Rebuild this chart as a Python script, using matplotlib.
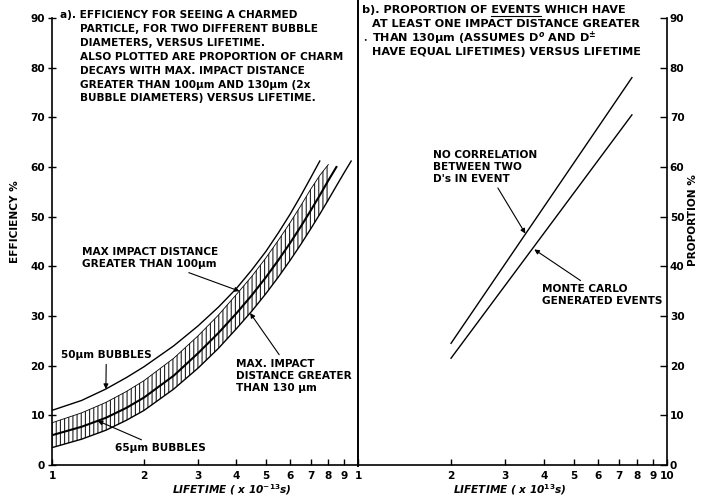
import numpy as np
import matplotlib
matplotlib.use("Agg")
import matplotlib.pyplot as plt
from matplotlib.lines import Line2D

# ---- data ----
# panel a) efficiency / proportion vs lifetime (x 1e-13 s)
lifetime_band = [1, 1.25, 1.5, 1.75, 2, 2.5, 3, 3.5, 4, 4.5, 5, 5.5, 6, 6.5, 7, 7.5, 8]

lifetime_50 = [1, 1.25, 1.5, 1.75, 2, 2.5, 3, 3.5, 4, 4.5, 5, 5.5, 6, 6.5, 7, 7.5]
eff_50um = [11, 13, 15.3, 17.6, 19.8, 24, 28, 31.8, 35.5, 39.3, 43, 46.8, 50.5, 54.2, 57.8, 61.2]

lifetime_65 = [1, 1.25, 1.5, 1.75, 2, 2.5, 3, 3.5, 4, 4.5, 5, 5.5, 6, 6.5, 7, 7.5, 8, 8.5]
eff_65um = [6, 7.7, 9.5, 11.5, 13.6, 18, 22.5, 26.6, 30.5, 34.2, 37.8, 41.3, 44.7, 48, 51.2,
            54.3, 57.3, 60]

prop_100um = [8.5, 10.5, 12.6, 14.8, 17, 21.5, 26, 30.2, 34.3, 38, 41.7, 45.3, 48.8, 52.2,
              55.5, 58.3, 60.5]

lifetime_130 = [1, 1.25, 1.5, 1.75, 2, 2.5, 3, 3.5, 4, 4.5, 5, 5.5, 6, 6.5, 7, 7.5, 8,
                8.5, 9, 9.5]
prop_130um = [3.5, 5.2, 7, 9, 11, 15.3, 19.5, 23.5, 27.4, 31, 34.5, 37.9, 41.2, 44.4, 47.5,
              50.5, 53.4, 56.2, 58.8, 61.2]

# panel b) proportion of events vs lifetime
lifetime_b = [2, 7.7]
prop_no_corr = [24.5, 78]
prop_monte_carlo = [21.5, 70.5]

y_ticks = [0, 10, 20, 30, 40, 50, 60, 70, 80, 90]
x_ticks_a = [1, 2, 3, 4, 5, 6, 7, 8, 9]
x_ticks_b = [1, 2, 3, 4, 5, 6, 7, 8, 9, 10]

plt.rcParams['font.family'] = ['DejaVu Sans']
plt.rcParams['font.weight'] = 'bold'
plt.rcParams['hatch.linewidth'] = 0.8
FS = 7.6
FS_B = 8.1

W, H = 701, 501
fig = plt.figure(figsize=(W / 100, H / 100), dpi=100)
fig.patch.set_facecolor('white')


def fx(px):
    return px / W


def fy(py):
    return 1 - py / H


ax1 = fig.add_axes([fx(52), fy(465), (358 - 52) / W, (465 - 18) / H])
ax2 = fig.add_axes([fx(358), fy(465), (667 - 358) / W, (465 - 18) / H])

for ax in (ax1, ax2):
    ax.set_xscale('log')
    ax.set_xlim(1, 10)
    ax.set_ylim(0, 90)
    ax.set_facecolor('none')
    ax.spines['top'].set_visible(False)
    ax.xaxis.set_minor_locator(matplotlib.ticker.NullLocator())
    ax.tick_params(axis='x', direction='in', length=4, width=1, labelsize=FS, pad=4)
    for s in ax.spines.values():
        s.set_linewidth(1.2)

# ---- panel a ----
ax1.spines['right'].set_visible(False)
ax1.set_xticks(x_ticks_a)
ax1.set_xticklabels([str(v) for v in x_ticks_a])
ax1.set_yticks(y_ticks)
ax1.set_yticklabels([str(v) for v in y_ticks])
ax1.tick_params(axis='y', direction='inout', length=6, width=1, labelsize=FS, pad=2)

ax1.fill_between(lifetime_band, prop_130um[:len(lifetime_band)], prop_100um,
                 facecolor='none', edgecolor='#222222', hatch='||||', linewidth=0)
ax1.plot(lifetime_band, prop_100um, color='k', lw=0.6)
ax1.plot(lifetime_130, prop_130um, color='k', lw=1.0)
ax1.plot(lifetime_65, eff_65um, color='k', lw=1.5)
ax1.plot(lifetime_50, eff_50um, color='k', lw=1.0)

arrow = dict(arrowstyle='-|>', color='k', lw=0.8, mutation_scale=7, shrinkA=1, shrinkB=0)

ax1.annotate("MAX IMPACT DISTANCE\nGREATER THAN 100µm", xy=(4.1, 35), xytext=(1.25, 41.6),
             fontsize=FS, va='center', ha='left', arrowprops=arrow, linespacing=1.25)
ax1.annotate("MAX. IMPACT\nDISTANCE GREATER\nTHAN 130 µm", xy=(4.44, 30.6), xytext=(3.99, 18),
             fontsize=FS, va='center', ha='left', arrowprops=arrow, linespacing=1.25)
ax1.annotate("50µm BUBBLES", xy=(1.5, 15.3), xytext=(1.07, 22.1),
             fontsize=FS, va='center', ha='left', arrowprops=arrow)
ax1.annotate("65µm BUBBLES", xy=(1.41, 8.9), xytext=(1.61, 3.4),
             fontsize=FS, va='center', ha='left', arrowprops=arrow)

title_a = ["a). EFFICIENCY FOR SEEING A CHARMED",
           "PARTICLE, FOR TWO DIFFERENT BUBBLE",
           "DIAMETERS, VERSUS LIFETIME.",
           "ALSO PLOTTED ARE PROPORTION OF CHARM",
           "DECAYS WITH MAX. IMPACT DISTANCE",
           "GREATER THAN 100µm AND 130µm (2x",
           "BUBBLE DIAMETERS) VERSUS LIFETIME."]
for i, line in enumerate(title_a):
    x0 = 60 if i == 0 else 80
    fig.text(fx(x0), fy(15 + i * 13.9), line, fontsize=FS, va='center', ha='left')

fig.text(fx(15), fy(222), "EFFICIENCY %", rotation=90, fontsize=FS, va='center', ha='center')
fig.text(fx(232), fy(490), r"LIFETIME ( x 10$^{-13}$s)", fontsize=FS, style='italic',
         va='center', ha='center')

# ---- panel b ----
ax2.spines['left'].set_visible(False)
ax2.set_xticks(x_ticks_b)
ax2.set_xticklabels([str(v) for v in x_ticks_b])
ax2.yaxis.tick_right()
ax2.set_yticks(y_ticks)
ax2.set_yticklabels([str(v) for v in y_ticks])
ax2.tick_params(axis='y', direction='in', length=5, width=1, labelsize=FS, pad=2)

ax2.plot(lifetime_b, prop_no_corr, color='k', lw=1.0)
ax2.plot(lifetime_b, prop_monte_carlo, color='k', lw=1.0)

ax2.annotate("NO CORRELATION\nBETWEEN TWO\nD's IN EVENT", xy=(3.48, 46.6), xytext=(1.75, 60),
             fontsize=FS, va='center', ha='left', arrowprops=arrow, linespacing=1.25)
ax2.annotate("MONTE CARLO\nGENERATED EVENTS", xy=(3.72, 43.4), xytext=(3.94, 34.2),
             fontsize=FS, va='center', ha='left', arrowprops=arrow, linespacing=1.25)

title_b = ["b). PROPORTION OF EVENTS WHICH HAVE",
           "AT LEAST ONE IMPACT DISTANCE GREATER",
           r"THAN 130µm (ASSUMES D$^{o}$ AND D$^{\pm}$",
           "HAVE EQUAL LIFETIMES) VERSUS LIFETIME"]
for i, line in enumerate(title_b):
    x0 = 362 if i == 0 else 372
    fig.text(fx(x0), fy(10 + i * 14), line, fontsize=FS_B, va='center', ha='left')
fig.text(fx(363), fy(40), "•", fontsize=4, va='center', ha='left')

# underline EVENTS
renderer = fig.canvas.get_renderer()
t_full = fig.text(fx(362), fy(10), "b). PROPORTION OF EVENTS", fontsize=FS_B, va='center', alpha=0)
t_word = fig.text(fx(362), fy(10), "EVENTS", fontsize=FS_B, va='center', alpha=0)
bb_full = t_full.get_window_extent(renderer)
bb_word = t_word.get_window_extent(renderer)
x_end = bb_full.x1
x_start = x_end - bb_word.width
y_line = bb_full.y0 - 1
fig.add_artist(Line2D([x_start / W, x_end / W], [y_line / H, y_line / H],
                      transform=fig.transFigure, color='k', lw=0.8))

fig.text(fx(693), fy(220), "PROPORTION %", rotation=90, fontsize=FS, va='center', ha='center')
fig.text(fx(510), fy(490), r"LIFETIME ( x 10$^{13}$s)", fontsize=FS, style='italic',
         va='center', ha='center')

# central dividing line running up to the top edge
fig.add_artist(Line2D([fx(358), fx(358)], [fy(466), 1.0], transform=fig.transFigure,
                      color='k', lw=1.4))

fig.savefig("out.png", dpi=100, facecolor='white')
